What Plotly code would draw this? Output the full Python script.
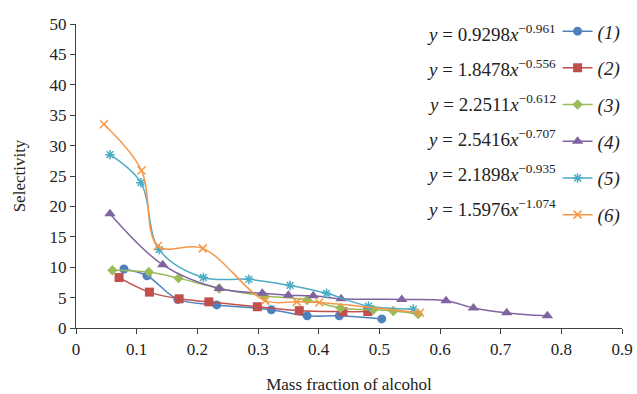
import plotly.graph_objects as go

# ---- data ----
x1 = [0.079, 0.117, 0.168, 0.232, 0.322, 0.381, 0.434, 0.504]
y1 = [9.7, 8.6, 4.7, 3.8, 3.0, 2.0, 2.0, 1.5]

x2 = [0.071, 0.121, 0.170, 0.219, 0.299, 0.368, 0.440, 0.481]
y2 = [8.3, 5.9, 4.8, 4.3, 3.5, 2.85, 2.7, 2.7]

x3 = [0.060, 0.120, 0.169, 0.236, 0.310, 0.381, 0.436, 0.490, 0.523, 0.564]
y3 = [9.5, 9.2, 8.2, 6.5, 5.3, 4.6, 3.3, 3.0, 2.8, 2.3]

x4 = [0.056, 0.143, 0.236, 0.307, 0.350, 0.391, 0.437, 0.537, 0.610, 0.655, 0.710, 0.777]
y4 = [18.8, 10.4, 6.5, 5.7, 5.4, 5.3, 4.8, 4.7, 4.5, 3.3, 2.5, 2.0]

x5 = [0.056, 0.107, 0.137, 0.210, 0.285, 0.353, 0.413, 0.482, 0.556]
y5 = [28.5, 23.9, 12.9, 8.3, 8.0, 7.0, 5.7, 3.6, 3.1]

x6 = [0.046, 0.108, 0.135, 0.209, 0.312, 0.364, 0.401, 0.567]
y6 = [33.5, 25.9, 13.5, 13.1, 4.5, 4.3, 4.2, 2.5]

series_names = ["(1)", "(2)", "(3)", "(4)", "(5)", "(6)"]
equations = [
    ("0.9298", "\u22120.961"),
    ("1.8478", "\u22120.556"),
    ("2.2511", "\u22120.612"),
    ("2.5416", "\u22120.707"),
    ("2.1898", "\u22120.935"),
    ("1.5976", "\u22121.074"),
]
x_ticks = [0, 0.1, 0.2, 0.3, 0.4, 0.5, 0.6, 0.7, 0.8, 0.9]
x_tick_labels = ["0", "0.1", "0.2", "0.3", "0.4", "0.5", "0.6", "0.7", "0.8", "0.9"]
y_ticks = [0, 5, 10, 15, 20, 25, 30, 35, 40, 45, 50]

# ---- styles ----
colors = ["#4F81BD", "#C0504D", "#9BBB59", "#8064A2", "#4BACC6", "#F79646"]
symbols = ["circle", "square", "diamond", "triangle-up", "asterisk-open", "x-thin-open"]
sizes = [9, 9, 8, 10, 8, 8]

FONT = "Liberation Serif, Times New Roman, serif"

fig = go.Figure()
xs = [x1, x2, x3, x4, x5, x6]
ys = [y1, y2, y3, y4, y5, y6]
for i in range(6):
    fig.add_trace(go.Scatter(
        x=xs[i], y=ys[i], mode="lines+markers",
        name="<i>" + series_names[i] + "</i>",
        legendgroup="g%d" % i,
        line=dict(color=colors[i], width=1.5, shape="spline", smoothing=1.0),
        marker=dict(symbol=symbols[i], size=sizes[i], color=colors[i],
                    line=dict(color=colors[i], width=1.5 if i >= 4 else 0)),
    ))

# paper height = 328 px (plot 304 px + 24 px above)
row_top = 0.8979
row_step = 0.1067
for i, (a, b) in enumerate(equations):
    fig.add_annotation(
        xref="paper", yref="paper", x=0.883, y=row_top - i * row_step,
        xanchor="right", yanchor="middle", showarrow=False,
        text="<i>y</i> = " + a + "<i>x</i><sup>" + b + "</sup>",
        font=dict(family=FONT, size=19, color="#222222"),
    )

fig.update_layout(
    width=637, height=394,
    margin=dict(l=76, r=15, t=0, b=66),
    paper_bgcolor="white", plot_bgcolor="white",
    font=dict(family=FONT, size=17, color="#222222"),
    showlegend=True,
    legend=dict(
        x=0.882, y=0.9625, xanchor="left", yanchor="top",
        traceorder="grouped", tracegroupgap=9,
        bgcolor="rgba(0,0,0,0)", borderwidth=0,
        font=dict(family=FONT, size=19, color="#222222"),
        itemwidth=30, maxheight=1,
    ),
    xaxis=dict(
        range=[0, 0.9], tickvals=x_ticks, ticktext=x_tick_labels,
        showgrid=False, zeroline=False, showline=True, linecolor="#404040",
        linewidth=1.2, ticks="outside", ticklen=5, tickcolor="#404040",
        automargin=False, ticklabeloverflow="allow",
        title=dict(text="Mass fraction of alcohol", standoff=22,
                   font=dict(family=FONT, size=17)),
        tickfont=dict(family=FONT, size=17),
    ),
    yaxis=dict(
        range=[0, 50], tickvals=y_ticks, domain=[0, 304 / 328],
        showgrid=False, zeroline=False, showline=True, linecolor="#404040",
        linewidth=1.2, ticks="outside", ticklen=5, tickcolor="#404040",
        automargin=False,
        title=dict(text="Selectivity", standoff=19,
                   font=dict(family=FONT, size=17)),
        tickfont=dict(family=FONT, size=17),
    ),
)

fig.write_html(
    "out.html",
    config={"displayModeBar": False},
    post_script="document.body.style.margin='0';document.body.style.overflow='hidden';",
)
